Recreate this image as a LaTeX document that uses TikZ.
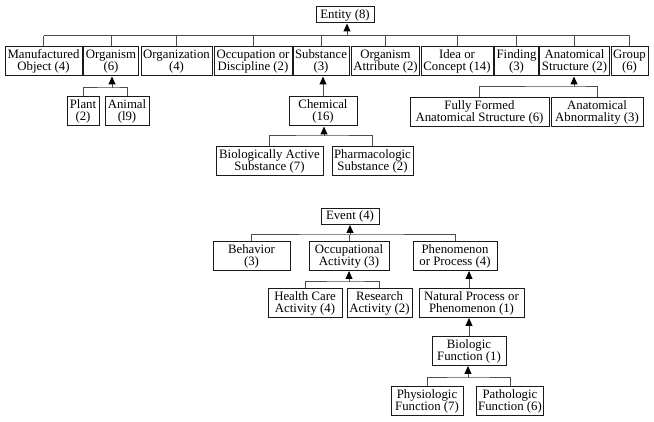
\documentclass[tikz,border=0pt]{standalone}
\usepackage{fontspec}
\setmainfont{Liberation Serif}
\usetikzlibrary{arrows.meta}
\tikzset{
  box/.style={draw=black!90, line width=1pt, align=center, inner xsep=2pt, inner ysep=1pt,
    minimum height=29pt, font=\fontsize{12.8}{12}\selectfont},
  onebox/.style={box, minimum height=16pt},
  wd/.style={minimum width=#1pt},
  link/.style={draw=black!70, line width=1pt},
  up/.style={link, -{Triangle[width=7pt,length=8pt,color=black]}}
}
\begin{document}
\begin{tikzpicture}[x=1pt,y=-1pt]
    \useasboundingbox (0,0) rectangle (654,422);
    % Entity tree
    \node[onebox, wd=58] (ent) at (345,15) {Entity (8)};
    \node[box, wd=77] (mo) at (43.5,61.5) {Manufactured\\Object (4)};
    \node[box, wd=54] (org) at (111,61.5) {Organism\\(6)};
    \node[box, wd=71] (orgz) at (176.5,61.5) {Organization\\(4)};
    \node[box, wd=78] (occ) at (253,61.5) {Occupation or\\Discipline (2)};
    \node[box, wd=56] (sub) at (321,61.5) {Substance\\(3)};
    \node[box, wd=67] (oatt) at (385.5,61.5) {Organism\\Attribute (2)};
    \node[box, wd=72] (idea) at (457,61.5) {Idea or\\Concept (14)};
    \node[box, wd=43] (find) at (516.5,61.5) {Finding\\(3)};
    \node[box, wd=69] (anat) at (574.5,61.5) {Anatomical\\Structure (2)};
    \node[box, wd=37] (grp) at (629.5,61.5) {Group\\(6)};
    \coordinate (ebus) at (347,36);
    \draw[up] (ebus) -- (ebus |- ent.south);
    \foreach \n in {mo,org,orgz,occ,sub,oatt,idea,find,anat,grp}
        \draw[link] (\n.north) -- (\n.north |- ebus);
    \draw[link] (mo.north |- ebus) -- (grp.north |- ebus);

    % Organism
    \node[box, wd=32] (plant) at (83,111.5) {Plant\\(2)};
    \node[box, wd=44] (animal) at (127,111.5) {Animal\\(l9)};
    \coordinate (obus) at (112,88);
    \draw[up] (obus) -- (obus |- org.south);
    \draw[link] (plant.north) |- (obus) -| (animal.north);

    % Substance
    \node[box, wd=68] (chem) at (323,111.5) {Chemical\\(16)};
    \draw[up] (chem.north) -- (chem.north |- sub.south);
    \node[box, wd=107] (bas) at (269.5,161) {Biologically Active\\Substance (7)};
    \node[box, wd=81] (pharm) at (372.5,161) {Pharmacologic\\Substance (2)};
    \coordinate (cbus) at (324,136);
    \draw[up] (cbus) -- (cbus |- chem.south);
    \draw[link] (bas.north) |- (cbus) -| (pharm.north);

    % Anatomical Structure
    \node[box, wd=139] (ffas) at (479.5,112) {Fully Formed\\Anatomical Structure (6)};
    \node[box, wd=92] (abn) at (597,112) {Anatomical\\Abnormality (3)};
    \coordinate (abus) at (574,87);
    \draw[up] (abus) -- (abus |- anat.south);
    \draw[link] (ffas.north) |- (abus) -| (abn.north);

    % Event tree
    \node[onebox, wd=58] (evt) at (350,216.5) {Event (4)};
    \node[box, wd=77] (behav) at (251.5,256) {Behavior\\(3)};
    \node[box, wd=80] (occact) at (349,256) {Occupational\\Activity (3)};
    \node[box, wd=84] (phen) at (455,256) {Phenomenon\\or Process (4)};
    \coordinate (vbus) at (350,235);
    \draw[link] (behav.north) |- (vbus) -| (phen.north);
    \draw[link] (occact.north) -- (occact.north |- vbus);
    \draw[up] (vbus) -- (vbus |- evt.south);

    % Occupational Activity
    \node[box, wd=74] (hca) at (305,303) {Health Care\\Activity (4)};
    \node[box, wd=65] (ra) at (379.5,303) {Research\\Activity (2)};
    \coordinate (abus2) at (349,282);
    \draw[up] (abus2) -- (abus2 |- occact.south);
    \draw[link] (hca.north) |- (abus2) -| (ra.north);

    % Phenomenon or Process
    \node[box, wd=105] (nat) at (471.5,303) {Natural Process or\\Phenomenon (1)};
    \node[box, wd=74] (bio) at (469,351) {Biologic\\Function (1)};
    \draw[up] (nat.north -| bio.north) -- (phen.south -| bio.north);
    \draw[up] (bio.north) -- (bio.north |- nat.south);
    \node[box, wd=72] (phys) at (427,401) {Physiologic\\Function (7)};
    \node[box, wd=66] (path) at (510,401) {Pathologic\\Function (6)};
    \coordinate (bbus) at (468,378);
    \draw[up] (bbus) -- (bbus |- bio.south);
    \draw[link] (phys.north) |- (bbus) -| (path.north);
\end{tikzpicture}
\end{document}
